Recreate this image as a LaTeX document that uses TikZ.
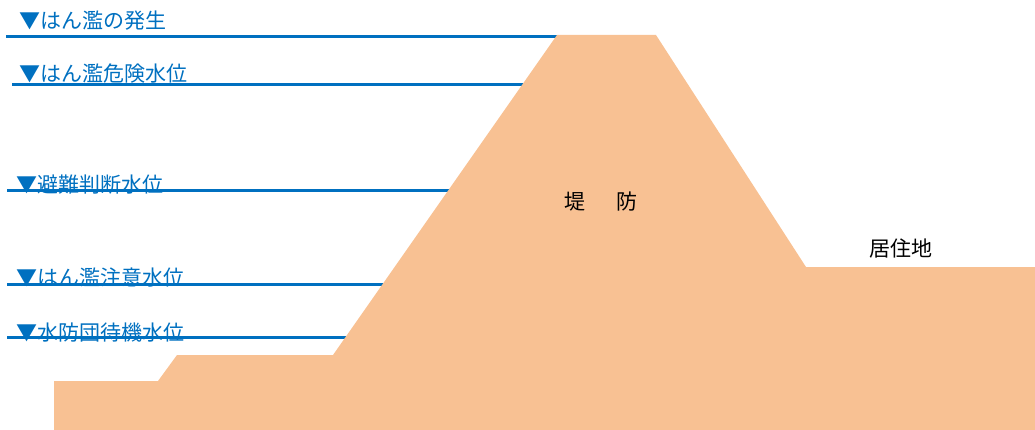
\documentclass[tikz,border=0pt]{standalone}
\usepackage{fontspec}
\setmainfont{Noto Sans CJK JP}
\definecolor{levelblue}{HTML}{0070C0}
\definecolor{dike}{HTML}{F8C193}
\begin{document}
\begin{tikzpicture}[x=1pt,y=-1pt,
  lvltext/.style={anchor=west,inner sep=0pt,text=levelblue,font=\fontsize{21}{21}\selectfont},
  lvlline/.style={draw=levelblue,line width=3pt},
  plain/.style={inner sep=0pt,text=black,font=\fontsize{21}{21}\selectfont}]
\useasboundingbox (0,0) rectangle (1035,430);
% labels
\node[lvltext] (t1) at (19,21) {▼はん濫の発生};
\node[lvltext] (t2) at (19,74) {▼はん濫危険水位};
\node[lvltext] (t3) at (16,185) {▼避難判断水位};
\node[lvltext] (t4) at (16,278) {▼はん濫注意水位};
\node[lvltext] (t5) at (16,333) {▼水防団待機水位};
% level lines
\draw[lvlline] (6,36.5) -- (560,36.5);
\draw[lvlline] (12,85) -- (525,85);
\draw[lvlline] (7,191) -- (452,191);
\draw[lvlline] (7,284.5) -- (387,284.5);
\draw[lvlline] (7,337.5) -- (347,337.5);
% embankment
\fill[dike] (54,430) -- (54,381) -- (158,381) -- (177,355) -- (333,355)
  -- (557,35) -- (656,35) -- (806,267) -- (1035,267) -- (1035,430) -- cycle;
\node[plain] (dk) at (601,202) {堤\hspace{31pt}防};
\node[plain] (rs) at (901,249) {居住地};
\end{tikzpicture}
\end{document}
